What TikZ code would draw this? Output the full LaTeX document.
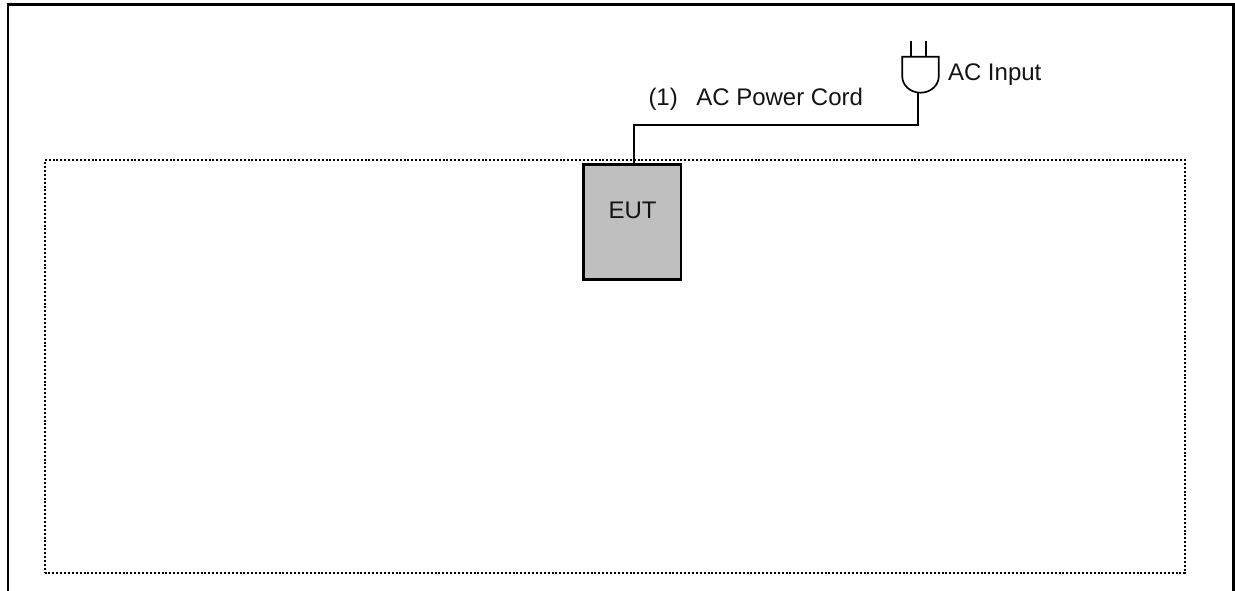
\documentclass[tikz,border=0pt]{standalone}
\usepackage{fontspec}
\setmainfont{Liberation Sans}
\tikzset{
  frameline/.style={line width=2.8pt,line cap=butt,line join=miter},
  dotline/.style={line width=2pt,dash pattern=on 2pt off 1.9pt},
  wire/.style={line width=1.7pt,line join=miter},
  eutbox/.style={draw,line width=2.7pt,fill=black!25,minimum width=97.2pt,minimum height=114.6pt,inner sep=0pt,outer sep=0pt},
  lab/.style={font=\fontsize{24pt}{26pt}\selectfont,text=black!92,inner sep=0pt,outer sep=0pt}
}
\begin{document}
\begin{tikzpicture}[x=1pt,y=-1pt]
\useasboundingbox (0,0) rectangle (1235,591);
\draw[frameline] (8,591) -- (8,4.6) -- (1233.7,4.6) -- (1233.7,591);
\node[draw,dotline,minimum width=1140.5pt,minimum height=412.2pt,inner sep=0pt,outer sep=0pt] (zone) at (614.75,366.6) {};
\node[eutbox] (eut) at (632.4,222) {};
\node[lab] (eutlabel) at (632.6,210.5) {EUT};
\coordinate (cordend) at (633.7,164.7);
\coordinate (corner) at (633.7,124.7);
\coordinate (plugbase) at (918.3,92.7);
\draw[wire] (cordend) -- (corner) -| (plugbase);
\coordinate (plugtl) at (902.3,56.7);
\coordinate (plugtr) at (938.7,56.7);
\coordinate (prongatop) at (910.7,40.7);
\coordinate (prongabase) at (910.7,56.7);
\coordinate (prongbtop) at (926.3,40.7);
\coordinate (prongbbase) at (926.3,56.7);
\draw[wire] (920.5,92.7) .. controls (910,92.7) and (902.3,85) .. (902.3,76.7) -- (plugtl) -- (plugtr) -- (938.7,76.7) .. controls (938.7,85) and (931,92.7) .. (920.5,92.7) -- cycle;
\draw[wire] (prongatop) -- (prongabase);
\draw[wire] (prongbtop) -- (prongbbase);
\node[lab,anchor=base west] (aclabel) at (948,81) {AC Input};
\node[lab,anchor=base west] (cordlabel) at (648.5,105.6) {(1)\hspace{0.77em}AC Power Cord};
\end{tikzpicture}
\end{document}
